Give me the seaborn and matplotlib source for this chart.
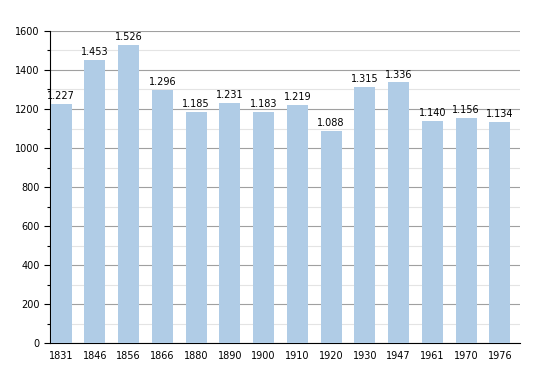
import pandas as pd
import matplotlib.pyplot as plt
import seaborn as sns
from matplotlib.ticker import MultipleLocator

# Population by census year
years = ["1831", "1846", "1856", "1866", "1880", "1890", "1900",
         "1910", "1920", "1930", "1947", "1961", "1970", "1976"]
population = [1227, 1453, 1526, 1296, 1185, 1231, 1183,
              1219, 1088, 1315, 1336, 1140, 1156, 1134]

data = pd.DataFrame({"Year": years, "Population": population})

sns.set_style("white")
plt.rcParams['font.family'] = ['DejaVu Sans']
plt.rcParams['text.color'] = 'black'
plt.rcParams['xtick.color'] = 'black'
plt.rcParams['ytick.color'] = 'black'

fig = plt.figure(figsize=(5.5, 3.73), dpi=100)
ax = fig.add_axes([0.091, 0.080, 0.854, 0.837])

sns.barplot(x="Year", y="Population", data=data, color="#b0cce6",
            saturation=1, width=0.62, ax=ax, zorder=3, linewidth=0)

# Value labels with dot as thousands separator
for i, val in enumerate(population):
    label = f"{val:,}".replace(",", ".")
    ax.text(i, val + 15, label, ha='center', va='bottom', fontsize=7,
            color='black', zorder=4)

ax.set_ylim(0, 1600)
ax.set_xlim(-0.33, 13.59)
ax.yaxis.set_major_locator(MultipleLocator(200))
ax.yaxis.set_minor_locator(MultipleLocator(100))
ax.grid(True, which='major', axis='y', color='#a0a0a0', linewidth=0.8, zorder=0)
ax.grid(True, which='minor', axis='y', color='#e4e4e4', linewidth=0.8, zorder=0)
ax.set_axisbelow(True)

ax.set_xlabel("")
ax.set_ylabel("")
for side in ['top', 'right']:
    ax.spines[side].set_visible(False)
ax.spines['left'].set_color('black')
ax.spines['bottom'].set_color('black')
ax.tick_params(axis='y', which='major', left=True, length=4, width=0.8,
               labelsize=7, labelcolor='black')
ax.tick_params(axis='y', which='minor', left=True, length=2, width=0.8)
ax.tick_params(axis='x', bottom=False, labelsize=7, pad=2, labelcolor='black')

plt.savefig("out.png", dpi=100)
plt.close()
